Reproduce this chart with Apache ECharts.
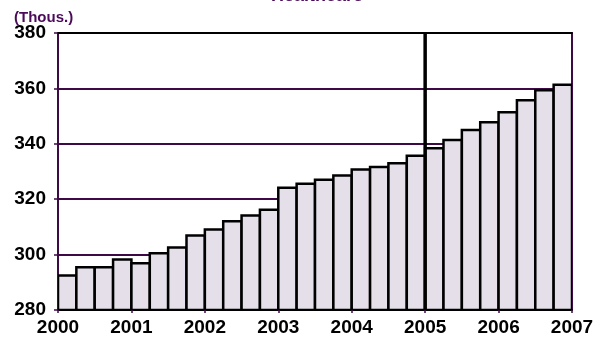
<!DOCTYPE html>
<html>
<head>
<meta charset="utf-8">
<script src="https://cdn.jsdelivr.net/npm/echarts@6/dist/echarts.min.js"></script>
<style>
  html, body { margin: 0; padding: 0; background: #fff; }
  #chart { width: 598px; height: 337px; }
</style>
</head>
<body>
<div id="chart"></div>
<script>
// Healthcare employment, quarterly, thousands
const years = [2000, 2001, 2002, 2003, 2004, 2005, 2006];
const quarterNames = ['Q1', 'Q2', 'Q3', 'Q4'];
const employment = [
  292.5, 295.4, 295.4, 298.2,
  296.9, 300.5, 302.6, 306.9,
  309.1, 312.0, 314.1, 316.2,
  324.1, 325.6, 327.0, 328.6,
  330.7, 331.6, 333.0, 335.7,
  338.4, 341.4, 345.0, 347.8,
  351.4, 355.7, 359.3, 361.3
];
const yTicks = [280, 300, 320, 340, 360, 380];
const yearTicks = [2000, 2001, 2002, 2003, 2004, 2005, 2006, 2007];
const markerYear = 2005;

const categories = [];
years.forEach(y => quarterNames.forEach(q => categories.push(y + ' ' + q)));

const PURPLE = '#3d0a45';
const FONT = '"Liberation Sans", Arial, sans-serif';
const Y_MIN = yTicks[0];
const Y_MAX = yTicks[yTicks.length - 1];

// Quarter bars spanning the full category band, from the axis floor up to the value
function renderQuarterBar(params, api) {
  const idx = api.value(0);
  const top = api.coord([idx, api.value(1)]);
  const bottom = api.coord([idx, Y_MIN]);
  const w = api.size([1, 0])[0];
  return {
    type: 'rect',
    shape: { x: top[0] - w / 2, y: top[1], width: w, height: bottom[1] - top[1] },
    style: { fill: '#e4dfe8', stroke: '#000', lineWidth: 2.5 }
  };
}

const chart = echarts.init(document.getElementById('chart'), null, { renderer: 'canvas' });
chart.setOption({
  animation: false,
  backgroundColor: '#ffffff',
  title: {
    text: 'Healthcare',
    left: 266,
    top: -18,
    textStyle: { color: '#4b0a5a', fontFamily: FONT, fontWeight: 'bold', fontSize: 18 }
  },
  graphic: [{
    type: 'text',
    left: 14,
    top: 10,
    style: { text: '(Thous.)', fill: '#4b0a5a', font: 'bold 15px ' + FONT }
  }],
  grid: { left: 58, right: 26, top: 33, bottom: 25, containLabel: false },
  xAxis: [
    {
      type: 'category',
      data: categories,
      position: 'bottom',
      boundaryGap: true,
      axisLine: { show: true, lineStyle: { color: '#000', width: 2 } },
      axisTick: { show: true, length: 3, lineStyle: { color: PURPLE, width: 1.5 } },
      axisLabel: { show: false },
      splitLine: { show: false }
    },
    {
      type: 'value',
      min: yearTicks[0],
      max: yearTicks[yearTicks.length - 1],
      interval: 1,
      position: 'bottom',
      axisLine: { show: false },
      axisTick: { show: false },
      splitLine: { show: false },
      axisLabel: {
        show: true, margin: 8, color: '#000',
        fontFamily: FONT, fontWeight: 'bold', fontSize: 19,
        formatter: v => String(v)
      }
    },
    {
      type: 'value',
      min: yearTicks[0],
      max: yearTicks[yearTicks.length - 1],
      position: 'top',
      axisLine: { show: true, lineStyle: { color: '#000', width: 2 } },
      axisTick: { show: false },
      axisLabel: { show: false },
      splitLine: { show: false }
    }
  ],
  yAxis: [
    {
      type: 'value',
      min: Y_MIN,
      max: Y_MAX,
      interval: 20,
      position: 'left',
      axisLine: { show: true, lineStyle: { color: PURPLE, width: 2 } },
      axisTick: { show: true, length: 4, lineStyle: { color: PURPLE, width: 1.5 } },
      axisLabel: {
        margin: 12, color: '#000',
        fontFamily: FONT, fontWeight: 'bold', fontSize: 19,
        padding: [5, 0, 0, 0]
      },
      splitLine: { show: true, lineStyle: { color: PURPLE, width: 2 } }
    },
    {
      type: 'value',
      min: Y_MIN,
      max: Y_MAX,
      position: 'right',
      axisLine: { show: true, lineStyle: { color: PURPLE, width: 2 } },
      axisTick: { show: false },
      axisLabel: { show: false },
      splitLine: { show: false }
    }
  ],
  series: [
    {
      type: 'custom',
      xAxisIndex: 0,
      yAxisIndex: 0,
      renderItem: renderQuarterBar,
      encode: { x: 0, y: 1 },
      data: employment.map((v, i) => [i, v]),
      clip: true,
      z: 2
    },
    {
      type: 'line',
      xAxisIndex: 1,
      yAxisIndex: 0,
      data: [[markerYear, Y_MIN], [markerYear, Y_MAX]],
      symbol: 'none',
      lineStyle: { color: '#000', width: 3.5 },
      z: 5
    }
  ]
});
</script>
</body>
</html>
